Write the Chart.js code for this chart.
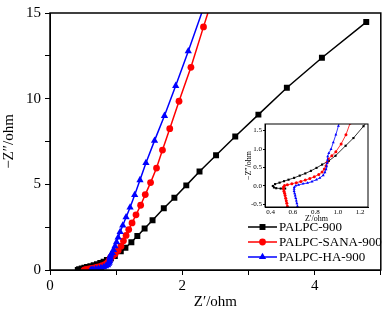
<!DOCTYPE html>
<html>
<head>
<meta charset="utf-8">
<script src="https://cdn.jsdelivr.net/npm/chart.js@4.4.0/dist/chart.umd.min.js"></script>
<style>
html, body { margin: 0; padding: 0; background: #fff; }
#wrap { position: relative; width: 385px; height: 313px; }
#main { position: absolute; left: 0; top: 0; }
#inset { position: absolute; left: 232px; top: 116px; }
</style>
</head>
<body>
<div id="wrap">
  <canvas id="main" width="385" height="313"></canvas>
  <canvas id="inset" width="145" height="108"></canvas>
</div>
<script>
// Nyquist data, Z' (x) and -Z'' (y) in ohm, high frequency first
const seriesNames = ['PALPC-900', 'PALPC-SANA-900', 'PALPC-HA-900'];

const blackX = [0.53,0.49,0.45,0.43,0.42,0.44,0.48,0.52,0.56,0.61,0.66,0.71,0.76,0.81,0.86,0.92,0.98,1.07,1.14,1.23,1.32,1.43,1.55,1.72,1.88,2.06,2.26,2.51,2.80,3.15,3.58,4.11,4.78];
const blackY = [-0.07,-0.07,-0.06,-0.04,0.00,0.05,0.09,0.13,0.17,0.22,0.28,0.34,0.41,0.49,0.58,0.68,0.82,1.09,1.30,1.62,1.98,2.42,2.90,3.60,4.22,4.94,5.75,6.70,7.79,9.07,10.64,12.39,14.47];

const redX = [0.55,0.545,0.54,0.535,0.53,0.525,0.52,0.515,0.515,0.525,0.55,0.59,0.63,0.67,0.71,0.75,0.79,0.83,0.86,0.88,0.895,0.905,0.916,0.947,0.983,1.03,1.073,1.11,1.15,1.19,1.24,1.30,1.37,1.44,1.52,1.61,1.70,1.81,1.95,2.13,2.32,2.55];
const redY = [-0.55,-0.47,-0.40,-0.33,-0.26,-0.20,-0.14,-0.08,-0.03,0.01,0.03,0.06,0.09,0.12,0.16,0.20,0.25,0.31,0.38,0.46,0.55,0.64,0.73,0.82,0.93,1.14,1.39,1.70,2.02,2.36,2.75,3.22,3.78,4.40,5.10,5.95,7.00,8.25,9.85,11.83,14.19,17.00];

const blueX = [0.64,0.635,0.63,0.625,0.62,0.615,0.61,0.61,0.612,0.625,0.65,0.69,0.73,0.77,0.81,0.84,0.87,0.885,0.895,0.90,0.905,0.908,0.91,0.92,0.94,0.96,0.983,1.006,1.03,1.06,1.10,1.15,1.21,1.28,1.36,1.45,1.58,1.73,1.90,2.09,2.32];
const blueY = [-0.55,-0.47,-0.40,-0.33,-0.26,-0.20,-0.14,-0.08,-0.03,0.01,0.03,0.06,0.08,0.12,0.17,0.22,0.29,0.37,0.45,0.53,0.62,0.71,0.80,0.89,1.00,1.18,1.39,1.63,1.90,2.22,2.60,3.08,3.65,4.38,5.25,6.25,7.55,9.00,10.75,12.77,15.30];

const mainXTicks = [0, 1, 2, 3, 4, 5];
const mainYTicks = [0, 2.5, 5, 7.5, 10, 12.5, 15];
const insetXTicks = [0.4, 0.6, 0.8, 1.0, 1.2];
const insetYTicks = [-0.5, 0.0, 0.5, 1.0, 1.5];

const SERIF = '"Liberation Serif", "Times New Roman", serif';
const colors = ['#000000', '#ff0000', '#0000ff'];
const styles = ['rect', 'circle', 'triangle'];
const mainRadius = [4.2, 3.4, 4.2];

function toPoints(xs, ys) {
    return xs.map((x, i) => ({x: x, y: ys[i]}));
}
const allData = [toPoints(blackX, blackY), toPoints(redX, redY), toPoints(blueX, blueY)];

function makeDatasets(radii, lineWidth) {
    return allData.map((d, i) => ({
        label: seriesNames[i],
        data: d,
        borderColor: colors[i],
        backgroundColor: colors[i],
        pointBackgroundColor: colors[i],
        pointBorderColor: colors[i],
        pointBorderWidth: 0,
        pointStyle: styles[i],
        pointRadius: radii[i],
        borderWidth: lineWidth,
        tension: 0,
        order: 2 - i,  // blue on top
    }));
}

// frame round the plot area
const boxPlugin = {
    id: 'box',
    afterDraw(chart, args, opts) {
        const {ctx, chartArea: a} = chart;
        ctx.save();
        ctx.strokeStyle = '#000';
        ctx.lineWidth = opts.width;
        ctx.strokeRect(a.left, a.top, a.right - a.left, a.bottom - a.top);
        ctx.restore();
    }
};

// legend drawn inside the plot, lower right
const legendPlugin = {
    id: 'boxLegend',
    afterDraw(chart) {
        const ctx = chart.ctx;
        ctx.save();
        chart.data.datasets.forEach((ds, i) => {
            const y = 227 + 15 * i;
            ctx.strokeStyle = ds.borderColor;
            ctx.lineWidth = 1.5;
            ctx.beginPath();
            ctx.moveTo(248, y);
            ctx.lineTo(277, y);
            ctx.stroke();
            ctx.fillStyle = ds.borderColor;
            Chart.helpers.drawPoint(ctx, {pointStyle: ds.pointStyle, radius: mainRadius[i], rotation: 0, borderWidth: 0}, 262.5, y);
            ctx.fillStyle = '#000';
            ctx.font = '13px ' + SERIF;
            ctx.textBaseline = 'middle';
            ctx.textAlign = 'left';
            ctx.fillText(ds.label, 279, y + 0.5);
        });
        ctx.restore();
    }
};

function axisOpts(min, max, ticks, labelFn, title, fontSize, titleSize, tickLen, titlePad) {
    return {
        type: 'linear',
        min: min,
        max: max,
        afterBuildTicks: (scale) => { scale.ticks = ticks.map(v => ({value: v})); },
        ticks: {
            color: '#000',
            font: {family: SERIF, size: fontSize},
            padding: 2,
            autoSkip: false,
            maxRotation: 0,
            callback: labelFn,
        },
        grid: {
            drawOnChartArea: false,
            drawTicks: true,
            tickLength: tickLen,
            tickColor: '#000',
            tickWidth: 1,
        },
        border: {display: true, color: '#000', width: 1},
        title: {
            display: true,
            text: title,
            color: '#000',
            font: {family: SERIF, size: titleSize},
            padding: titlePad,
        },
    };
}

const mainX = axisOpts(0, 5, mainXTicks, v => (v % 2 === 0 ? String(v) : ''), 'Z\u2032/ohm', 15, 15, 5, {top: 0, bottom: 2});
mainX.afterFit = (scale) => { scale.height = 43; };
const mainY = axisOpts(0, 15, mainYTicks, v => (v % 5 === 0 ? String(v) : ''), '\u2212Z\u2033/ohm', 15, 15, 5, {top: 0, bottom: 0});
mainY.ticks.padding = 4;
mainY.afterFit = (scale) => { scale.width = 50; };

new Chart(document.getElementById('main'), {
    type: 'line',
    data: {datasets: makeDatasets(mainRadius, 1.5)},
    options: {
        responsive: false,
        animation: false,
        events: [],
        layout: {padding: {left: 0, right: 4, top: 5, bottom: 0}},
        plugins: {legend: {display: false}, tooltip: {enabled: false}, box: {width: 1.5}},
        scales: {x: mainX, y: mainY},
    },
    plugins: [boxPlugin, legendPlugin],
});

const insX = axisOpts(0.35, 1.27, insetXTicks, v => v.toFixed(1), 'Z\u2032/ohm', 7, 8, 1, {top: 0, bottom: 0});
insX.ticks.padding = 0;
insX.afterFit = (scale) => { scale.height = 17; };
const insY = axisOpts(-0.57, 1.68, insetYTicks, v => v.toFixed(1), '\u2212Z\u2033/ohm', 7, 8, 2, {top: 0, bottom: 0});
insY.ticks.padding = 1;
insY.afterFit = (scale) => { scale.width = 21; };

new Chart(document.getElementById('inset'), {
    type: 'line',
    data: {datasets: makeDatasets([1.5, 1.5, 1.7], 0.8)},
    options: {
        responsive: false,
        animation: false,
        events: [],
        layout: {padding: {left: 12, right: 9, top: 8, bottom: 0}},
        plugins: {legend: {display: false}, tooltip: {enabled: false}, box: {width: 1}},
        scales: {x: insX, y: insY},
    },
    plugins: [boxPlugin],
});
</script>
</body>
</html>
